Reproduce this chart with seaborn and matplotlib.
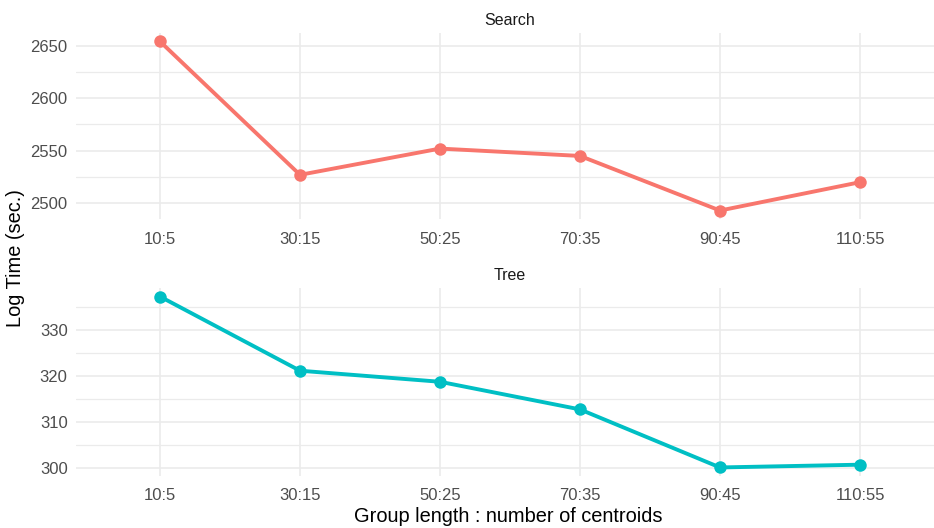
import numpy as np
import pandas as pd
import matplotlib
matplotlib.use("Agg")
import matplotlib.pyplot as plt
from matplotlib.ticker import MultipleLocator
import seaborn as sns

# --- data ---
groups = ["10:5", "30:15", "50:25", "70:35", "90:45", "110:55"]
search_time = [2654, 2527, 2552, 2545, 2493, 2520]
tree_time = [337.3, 321.2, 318.8, 312.8, 300.2, 300.8]
panels = ["Search", "Tree"]
colors = ["#F8766D", "#00BFC4"]

df = pd.DataFrame({
    "group": groups * 2,
    "time": search_time + tree_time,
    "method": ["Search"] * len(groups) + ["Tree"] * len(groups),
})

sns.set_theme(style="white")
plt.rcParams["font.family"] = ["Liberation Sans", "DejaVu Sans"]

W, H = 934, 528
fig = plt.figure(figsize=(W / 100, H / 100), dpi=100)

# panel boxes in pixels: (left, top, right, bottom)
boxes = [(76, 33, 944, 219), (76, 288, 944, 476)]
majors = [50, 10]
minors = [25, 5]

for i, name in enumerate(panels):
    l, t, r, b = boxes[i]
    ax = fig.add_axes([l / W, 1 - b / H, (r - l) / W, (b - t) / H])
    sub = df[df["method"] == name]
    sns.lineplot(data=sub, x="group", y="time", ax=ax, color=colors[i],
                 linewidth=2.8, marker="o", markersize=9,
                 markeredgewidth=0, sort=False)
    ax.set_xlim(-0.6, len(groups) - 0.4)
    lo, hi = sub["time"].min(), sub["time"].max()
    pad = (hi - lo) * 0.05
    ax.set_ylim(lo - pad, hi + pad)
    ax.yaxis.set_major_locator(MultipleLocator(majors[i]))
    ax.yaxis.set_minor_locator(MultipleLocator(minors[i]))
    ax.grid(which="major", axis="both", color="#EBEBEB", linewidth=1.2)
    ax.grid(which="minor", axis="y", color="#EBEBEB", linewidth=0.9)
    ax.set_axisbelow(True)
    for s in ax.spines.values():
        s.set_visible(False)
    ax.tick_params(axis="both", which="both", length=0, labelsize=12,
                   labelcolor="#4D4D4D")
    ax.tick_params(axis="y", pad=6)
    ax.tick_params(axis="x", pad=9)
    ax.set_xlabel("")
    ax.set_ylabel("")
    ax.set_title(name, fontsize=11.5, color="#1A1A1A", pad=6)

fig.text(16 / W, 1 - 258 / H, "Log Time (sec.)", rotation=90,
         ha="center", va="center", fontsize=14.4, color="black")
fig.text(508 / W, 1 - 516 / H, "Group length : number of centroids",
         ha="center", va="center", fontsize=14.4, color="black")

fig.savefig("out.png", dpi=100, facecolor="white")
